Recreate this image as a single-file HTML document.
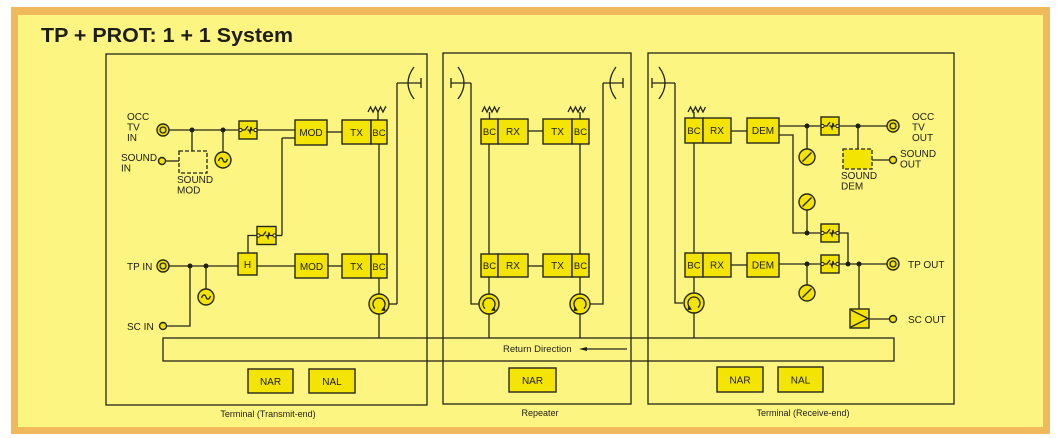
<!DOCTYPE html>
<html><head><meta charset="utf-8"><style>
html,body{margin:0;padding:0;background:#fff;}
svg{display:block;}
text{font-family:"Liberation Sans",Arial,sans-serif;fill:#1e1e14;}
.l{stroke:#26261a;stroke-width:1.3;fill:none;}
.b{stroke:#26261a;stroke-width:1.4;fill:#f3e404;}
.t{font-size:10px;}
.bt{font-size:10px;text-anchor:middle;}
.d{fill:#1e1e14;}
</style></head><body>
<svg width="1060" height="438" viewBox="0 0 1060 438" xmlns="http://www.w3.org/2000/svg">
<rect x="0" y="0" width="1060" height="438" fill="#fff"/>
<rect x="11" y="7" width="1039" height="427" fill="#efb95c"/>
<rect x="18" y="15" width="1025" height="412" fill="#fdf582"/>
<text x="41" y="42" style="font-size:20px;font-weight:bold" textLength="252" lengthAdjust="spacingAndGlyphs">TP + PROT: 1 + 1 System</text>

<!-- panels -->
<rect class="l" x="106" y="54" width="321" height="351"/>
<rect class="l" x="443" y="53" width="188" height="351"/>
<rect class="l" x="648" y="53" width="306" height="351"/>
<rect class="l" x="163" y="338" width="731" height="23"/>
<text x="503" y="352" style="font-size:9.5px">Return Direction</text>
<line class="l" x1="583" y1="349" x2="627" y2="349"/>
<polygon points="579,349 587,347 587,351" class="d"/>

<text x="268" y="417" style="font-size:9px;text-anchor:middle">Terminal (Transmit-end)</text>
<text x="540" y="416" style="font-size:9px;text-anchor:middle">Repeater</text>
<text x="803" y="416" style="font-size:9px;text-anchor:middle">Terminal (Receive-end)</text>

<!-- ============ LEFT PANEL ============ -->
<text class="t" x="127" y="120">OCC</text>
<text class="t" x="127" y="130.5">TV</text>
<text class="t" x="127" y="141">IN</text>
<text class="t" x="121" y="161">SOUND</text>
<text class="t" x="121" y="171.5">IN</text>
<text class="t" x="177" y="183">SOUND</text>
<text class="t" x="177" y="193.5">MOD</text>

<line class="l" x1="169" y1="130" x2="239" y2="130"/>
<line class="l" x1="257" y1="130" x2="295" y2="130"/>
<circle class="b" cx="163" cy="130" r="6"/>
<circle class="l" cx="163" cy="130" r="3"/>
<circle class="d" cx="192" cy="130" r="2.5"/>
<circle class="d" cx="223" cy="130" r="2.5"/>
<line class="l" x1="192" y1="130" x2="192" y2="151"/>
<rect x="179" y="151" width="28" height="22" fill="none" stroke="#26261a" stroke-width="1.3" stroke-dasharray="4,2"/>
<line class="l" x1="165.5" y1="161" x2="179" y2="161"/>
<circle class="b" cx="162" cy="161" r="3.5"/>
<line class="l" x1="223" y1="130" x2="223" y2="152"/>
<g transform="translate(223,160)"><circle class="b" r="8"/><path class="l" d="M-4.5,1 C-3,-3 -1,-3 0,0 C1,3 3,3 4.5,-1"/></g>

<g transform="translate(239,121)"><rect class="b" width="18" height="18"/><circle cx="1.5" cy="9" r="1.6" fill="#fdf582" stroke="#26261a"/><circle cx="16.5" cy="9" r="1.6" fill="#fdf582" stroke="#26261a"/><path class="l" d="M3.1,9 H6 L9,5 M8.5,9 H10 L11,11.5 L12,6 L12.5,9 H14.9"/></g>

<rect class="b" x="295" y="120" width="32" height="25"/>
<text class="bt" x="311" y="136">MOD</text>
<line class="l" x1="282" y1="138" x2="295" y2="138"/>
<line class="l" x1="282" y1="138" x2="282" y2="235.5"/>
<line class="l" x1="276" y1="235.5" x2="282" y2="235.5"/>
<line class="l" x1="327" y1="132" x2="342" y2="132"/>
<rect class="b" x="342" y="120" width="29" height="24"/>
<rect class="b" x="371" y="120" width="16" height="24"/>
<text class="bt" x="356.5" y="136">TX</text>
<text class="bt" x="379" y="136" style="font-size:9.5px">BC</text>
<polyline class="l" points="368,112 370.5,107 373,112 375.5,107 378,112 380.5,107 383,112 385.5,107 386,108"/>
<line class="l" x1="378" y1="112" x2="378" y2="120"/>
<line class="l" x1="379" y1="144" x2="379" y2="254"/>

<line class="l" x1="397" y1="83" x2="397" y2="304"/>
<line class="l" x1="397" y1="83" x2="421" y2="83"/>
<line class="l" x1="421" y1="78" x2="421" y2="88"/>
<path class="l" d="M414,67 Q402,83 414,99"/>

<text class="t" x="127" y="270">TP IN</text>
<line class="l" x1="169" y1="266" x2="238" y2="266"/>
<circle class="b" cx="163" cy="266" r="6"/>
<circle class="l" cx="163" cy="266" r="3"/>
<circle class="d" cx="190" cy="266" r="2.5"/>
<circle class="d" cx="206" cy="266" r="2.5"/>
<polyline class="l" points="190,266 190,326 166.5,326"/>
<circle class="b" cx="163" cy="326" r="3.5"/>
<text class="t" x="127" y="330">SC IN</text>
<line class="l" x1="206" y1="266" x2="206" y2="289"/>
<g transform="translate(206,297)"><circle class="b" r="8"/><path class="l" d="M-4.5,1 C-3,-3 -1,-3 0,0 C1,3 3,3 4.5,-1"/></g>

<rect class="b" x="238" y="253" width="19" height="22"/>
<text class="bt" x="247.5" y="268">H</text>
<polyline class="l" points="248,253 248,235.5 257,235.5"/>
<g transform="translate(257,226.5)"><rect class="b" width="19" height="18"/><circle cx="1.5" cy="9" r="1.6" fill="#fdf582" stroke="#26261a"/><circle cx="17.5" cy="9" r="1.6" fill="#fdf582" stroke="#26261a"/><path class="l" d="M3.1,9 H6 L9,5 M8.5,9 H10 L11,11.5 L12,6 L12.5,9 H15.9"/></g>
<line class="l" x1="257" y1="266" x2="295" y2="266"/>
<rect class="b" x="295" y="254" width="33" height="24"/>
<text class="bt" x="311.5" y="270">MOD</text>
<line class="l" x1="328" y1="266" x2="342" y2="266"/>
<rect class="b" x="342" y="254" width="29" height="24"/>
<rect class="b" x="371" y="254" width="16" height="24"/>
<text class="bt" x="356.5" y="270">TX</text>
<text class="bt" x="379" y="270" style="font-size:9.5px">BC</text>
<line class="l" x1="379" y1="278" x2="379" y2="294"/>
<line class="l" x1="389" y1="304" x2="397" y2="304"/>
<line class="l" x1="379" y1="314" x2="379" y2="338"/>
<g transform="translate(379,304)"><circle class="b" r="10"/><path class="l" d="M-4,4.5 A6,6 0 1 1 4,4.5"/><polygon class="d" points="5.5,2.5 2,6.5 6.5,7"/></g>

<rect class="b" x="248" y="369" width="45" height="24"/>
<text class="bt" x="270.5" y="385">NAR</text>
<rect class="b" x="309" y="369" width="46" height="24"/>
<text class="bt" x="332" y="385">NAL</text>

<!-- ============ MIDDLE PANEL ============ -->
<line class="l" x1="451" y1="78" x2="451" y2="88"/>
<line class="l" x1="451" y1="83" x2="471" y2="83"/>
<path class="l" d="M458,67 Q470,83 458,99"/>
<polyline class="l" points="471,83 471,304 479,304"/>
<line class="l" x1="603" y1="83" x2="623" y2="83"/>
<line class="l" x1="623" y1="78" x2="623" y2="88"/>
<path class="l" d="M616,67 Q604,83 616,99"/>
<polyline class="l" points="603,83 603,304 590,304"/>

<polyline class="l" points="482,112 484.5,107 487,112 489.5,107 492,112 494.5,107 497,112 499.5,107"/>
<line class="l" x1="489.5" y1="112" x2="489.5" y2="119"/>
<polyline class="l" points="568,112 570.5,107 573,112 575.5,107 578,112 580.5,107 583,112 585.5,107"/>
<line class="l" x1="580" y1="112" x2="580" y2="119"/>

<rect class="b" x="481" y="119" width="17" height="25"/>
<rect class="b" x="498" y="119" width="30" height="25"/>
<text class="bt" x="489.5" y="135" style="font-size:9.5px">BC</text>
<text class="bt" x="513" y="135">RX</text>
<line class="l" x1="528" y1="131" x2="543" y2="131"/>
<rect class="b" x="543" y="119" width="29" height="25"/>
<rect class="b" x="572" y="119" width="17" height="25"/>
<text class="bt" x="557.5" y="135">TX</text>
<text class="bt" x="580.5" y="135" style="font-size:9.5px">BC</text>

<line class="l" x1="489" y1="144" x2="489" y2="254"/>
<line class="l" x1="580" y1="144" x2="580" y2="254"/>

<rect class="b" x="481" y="254" width="17" height="23"/>
<rect class="b" x="498" y="254" width="30" height="23"/>
<text class="bt" x="489.5" y="269" style="font-size:9.5px">BC</text>
<text class="bt" x="513" y="269">RX</text>
<line class="l" x1="528" y1="266" x2="543" y2="266"/>
<rect class="b" x="543" y="254" width="29" height="23"/>
<rect class="b" x="572" y="254" width="17" height="23"/>
<text class="bt" x="557.5" y="269">TX</text>
<text class="bt" x="580.5" y="269" style="font-size:9.5px">BC</text>

<line class="l" x1="489" y1="277" x2="489" y2="294"/>
<line class="l" x1="580" y1="277" x2="580" y2="294"/>
<line class="l" x1="489" y1="314" x2="489" y2="338"/>
<line class="l" x1="580" y1="314" x2="580" y2="338"/>
<g transform="translate(489,304)"><circle class="b" r="10"/><path class="l" d="M-4,4.5 A6,6 0 1 1 4,4.5"/><polygon class="d" points="5.5,2.5 2,6.5 6.5,7"/></g>
<g transform="translate(580,304) scale(-1,1)"><circle class="b" r="10"/><path class="l" d="M-4,4.5 A6,6 0 1 1 4,4.5"/><polygon class="d" points="5.5,2.5 2,6.5 6.5,7"/></g>

<rect class="b" x="509" y="368" width="47" height="24"/>
<text class="bt" x="532.5" y="384">NAR</text>

<!-- ============ RIGHT PANEL ============ -->
<line class="l" x1="652" y1="78" x2="652" y2="88"/>
<line class="l" x1="652" y1="83" x2="675" y2="83"/>
<path class="l" d="M659,67 Q671,83 659,99"/>
<polyline class="l" points="675,83 675,303 683,303"/>

<polyline class="l" points="688,112 690.5,107 693,112 695.5,107 698,112 700.5,107 703,112 705.5,107"/>
<line class="l" x1="694" y1="112" x2="694" y2="118"/>
<rect class="b" x="685" y="118" width="18" height="25"/>
<rect class="b" x="703" y="118" width="28" height="25"/>
<text class="bt" x="694" y="134" style="font-size:9.5px">BC</text>
<text class="bt" x="717" y="134">RX</text>
<line class="l" x1="731" y1="131" x2="747" y2="131"/>
<rect class="b" x="747" y="118" width="32" height="25"/>
<text class="bt" x="763" y="134">DEM</text>

<line class="l" x1="779" y1="126" x2="821" y2="126"/>
<circle class="d" cx="807" cy="126" r="2.5"/>
<line class="l" x1="807" y1="126" x2="807" y2="149"/>
<g transform="translate(807,157)"><circle class="b" r="8"/><line class="l" x1="-4.5" y1="4.5" x2="4.5" y2="-4.5"/></g>
<g transform="translate(821,117)"><rect class="b" width="18" height="18"/><circle cx="1.5" cy="9" r="1.6" fill="#fdf582" stroke="#26261a"/><circle cx="16.5" cy="9" r="1.6" fill="#fdf582" stroke="#26261a"/><path class="l" d="M3.1,9 H6 L9,5 M8.5,9 H10 L11,11.5 L12,6 L12.5,9 H14.9"/></g>
<line class="l" x1="839" y1="126" x2="887" y2="126"/>
<circle class="d" cx="858" cy="126" r="2.5"/>
<line class="l" x1="858" y1="126" x2="858" y2="149"/>
<rect x="843" y="149" width="29" height="20" fill="#f3e404" stroke="#26261a" stroke-width="1.3" stroke-dasharray="4,2"/>
<line class="l" x1="872" y1="160" x2="889.5" y2="160"/>
<circle class="b" cx="893" cy="160" r="3.5"/>
<circle class="b" cx="893" cy="126" r="6"/>
<circle class="l" cx="893" cy="126" r="3"/>
<text class="t" x="912" y="120">OCC</text>
<text class="t" x="912" y="130.5">TV</text>
<text class="t" x="912" y="141">OUT</text>
<text class="t" x="900" y="157">SOUND</text>
<text class="t" x="900" y="167.5">OUT</text>
<text class="t" x="841" y="179">SOUND</text>
<text class="t" x="841" y="189.5">DEM</text>

<polyline class="l" points="779,135 793,135 793,233 821,233"/>
<g transform="translate(807,202)"><circle class="b" r="8"/><line class="l" x1="-4.5" y1="4.5" x2="4.5" y2="-4.5"/></g>
<line class="l" x1="807" y1="210" x2="807" y2="233"/>
<circle class="d" cx="807" cy="233" r="2.5"/>
<g transform="translate(821,224)"><rect class="b" width="18" height="18"/><circle cx="1.5" cy="9" r="1.6" fill="#fdf582" stroke="#26261a"/><circle cx="16.5" cy="9" r="1.6" fill="#fdf582" stroke="#26261a"/><path class="l" d="M3.1,9 H6 L9,5 M8.5,9 H10 L11,11.5 L12,6 L12.5,9 H14.9"/></g>
<polyline class="l" points="839,233 848,233 848,264"/>

<line class="l" x1="694" y1="143" x2="694" y2="253"/>
<rect class="b" x="685" y="253" width="18" height="24"/>
<rect class="b" x="703" y="253" width="28" height="24"/>
<text class="bt" x="694" y="268.5" style="font-size:9.5px">BC</text>
<text class="bt" x="717" y="268.5">RX</text>
<line class="l" x1="731" y1="265" x2="747" y2="265"/>
<rect class="b" x="747" y="253" width="32" height="24"/>
<text class="bt" x="763" y="268.5">DEM</text>

<line class="l" x1="779" y1="264" x2="821" y2="264"/>
<circle class="d" cx="807" cy="264" r="2.5"/>
<line class="l" x1="807" y1="264" x2="807" y2="285"/>
<g transform="translate(807,293)"><circle class="b" r="8"/><line class="l" x1="-4.5" y1="4.5" x2="4.5" y2="-4.5"/></g>
<g transform="translate(821,255)"><rect class="b" width="18" height="18"/><circle cx="1.5" cy="9" r="1.6" fill="#fdf582" stroke="#26261a"/><circle cx="16.5" cy="9" r="1.6" fill="#fdf582" stroke="#26261a"/><path class="l" d="M3.1,9 H6 L9,5 M8.5,9 H10 L11,11.5 L12,6 L12.5,9 H14.9"/></g>
<line class="l" x1="839" y1="264" x2="887" y2="264"/>
<circle class="d" cx="848" cy="264" r="2.5"/>
<circle class="d" cx="859" cy="264" r="2.5"/>
<circle class="b" cx="893" cy="264" r="6"/>
<circle class="l" cx="893" cy="264" r="3"/>
<text class="t" x="908" y="268">TP OUT</text>

<line class="l" x1="859" y1="264" x2="859" y2="309"/>
<rect class="b" x="850" y="309" width="19" height="19"/>
<polyline class="l" points="851,310 868,318.5 851,327"/>
<line class="l" x1="869" y1="319" x2="889.5" y2="319"/>
<circle class="b" cx="893" cy="319" r="3.5"/>
<text class="t" x="908" y="323">SC OUT</text>

<line class="l" x1="694" y1="277" x2="694" y2="293"/>
<line class="l" x1="694" y1="313" x2="694" y2="338"/>
<g transform="translate(694,303) scale(-1,1)"><circle class="b" r="10"/><path class="l" d="M-4,4.5 A6,6 0 1 1 4,4.5"/><polygon class="d" points="5.5,2.5 2,6.5 6.5,7"/></g>

<rect class="b" x="717" y="367" width="46" height="25"/>
<text class="bt" x="740" y="383.5">NAR</text>
<rect class="b" x="778" y="367" width="45" height="25"/>
<text class="bt" x="800.5" y="383.5">NAL</text>
</svg>
</body></html>
